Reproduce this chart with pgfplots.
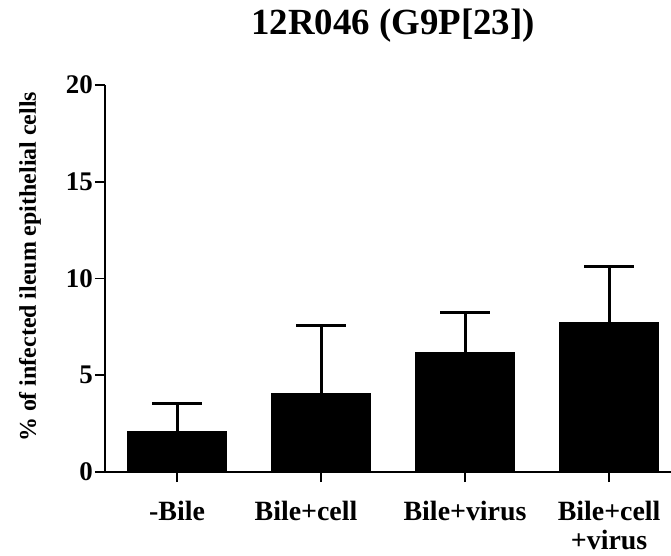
\documentclass[border=0pt]{standalone}
\usepackage{fontspec}
\setmainfont{Liberation Serif}
\usepackage{pgfplots}
\pgfplotsset{compat=1.18}
\begin{document}
\begin{tikzpicture}
\begin{axis}[
  scale only axis, width=566bp, height=387bp,
  at={(0,0)}, anchor=south west,
  xmin=-0.5, xmax=3.43, ymin=0, ymax=20,
  axis x line=bottom, axis y line=left,
  axis line style={line width=1.6bp, -},
  ytick={0,5,10,15,20},
  xtick={0,1,2,3},
  xticklabels={-Bile, {Bile+cell\kern30bp}, Bile+virus, {Bile+cell\\+virus}},
  tick style={line width=1.6bp, black},
  tick align=outside,
  major tick length=10bp,
  /pgf/number format/assume math mode=true,
  yticklabel style={font=\fontsize{27}{28}\selectfont\bfseries, inner sep=2bp},
  xticklabel style={font=\fontsize{28}{29}\selectfont\bfseries, align=center, yshift=-16bp},
  ylabel={\% of infected ileum epithelial cells},
  ylabel style={font=\fontsize{24}{26}\selectfont\bfseries, at={(axis description cs:-0.1325,0.53)}, anchor=center},
  title={12R046 (G9P[23])},
  title style={font=\fontsize{37}{40}\selectfont\bfseries, at={(axis description cs:0.509,1.116)}, anchor=base},
]
\addplot[ybar, fill=black, draw=black, bar width=99bp,
  error bars/.cd, y dir=plus, y explicit, error mark=|,
  error bar style={line width=3bp, black},
  error mark options={line width=3bp, mark size=25bp, black}]
  coordinates {
    (0,2.1) +- (0,1.45)
    (1,4.05) +- (0,3.5)
    (2,6.2) +- (0,2.05)
    (3,7.75) +- (0,2.85)
  };
\end{axis}
\pgfresetboundingbox
\useasboundingbox (-105bp,-84bp) rectangle (566bp,472bp);
\end{tikzpicture}
\end{document}
